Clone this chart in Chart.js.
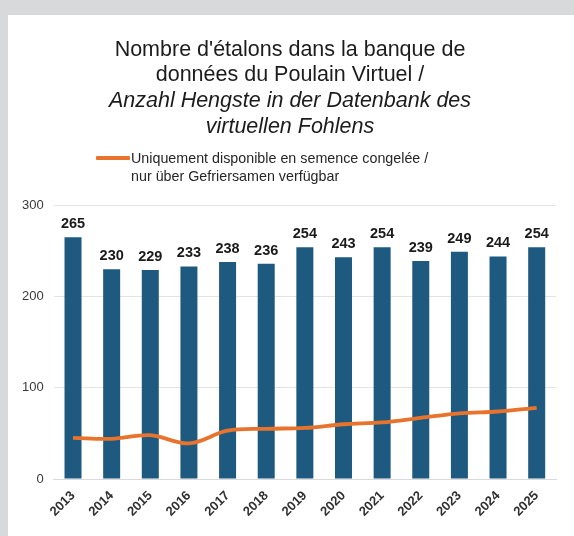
<!DOCTYPE html>
<html>
<head>
<meta charset="utf-8">
<script src="https://cdn.jsdelivr.net/npm/chart.js@4.4.1/dist/chart.umd.min.js"></script>
<style>
  html, body { margin: 0; padding: 0; }
  body { width: 574px; height: 536px; background: #d8d9db; position: relative; overflow: hidden;
         font-family: 'Liberation Sans', Arial, sans-serif; }
  #panel { position: absolute; left: 8px; top: 15px; right: 0; bottom: 0; background: #ffffff; }
  #wrap { position: absolute; left: 0; top: 0; width: 574px; height: 536px; }
  #legend { position: absolute; left: 96px; top: 149px; }
  .item { display: flex; align-items: flex-start; }
  .swatch { width: 34px; height: 4px; margin-top: 7px; margin-right: 1px; border-radius: 1px; }
  .ltext { font-size: 14.3px; line-height: 18px; color: #262626; }
</style>
</head>
<body>
<div id="panel"></div>
<div id="wrap"><canvas id="c" width="574" height="536"></canvas></div>
<div id="legend"></div>
<script>
// ---- data ----
const years = ['2013','2014','2015','2016','2017','2018','2019','2020','2021','2022','2023','2024','2025'];
const totalStallions = [265, 230, 229, 233, 238, 236, 254, 243, 254, 239, 249, 244, 254];
const frozenOnly = [45, 44, 48, 39, 53, 55, 56, 60, 62, 67, 72, 74, 78];
const yTickValues = [0, 100, 200, 300];
const titleLines = ["Nombre d'étalons dans la banque de", "données du Poulain Virtuel /"];
const subtitleLines = ["Anzahl Hengste in der Datenbank des", "virtuellen Fohlens"];
const frozenLabel = ["Uniquement disponible en semence congelée /", "nur über Gefriersamen verfügbar"];
const totalLabel = "Nombre d'étalons / Anzahl Hengste";

const FONT = "'Liberation Sans', Arial, Helvetica, sans-serif";
const BAR_COLOR = '#1e5a80';
const LINE_COLOR = '#e8732c';

Chart.defaults.font.family = FONT;

// value labels above bars (positions from the bar elements)
const barValueLabels = {
  id: 'barValueLabels',
  afterDatasetsDraw(chart) {
    const idx = chart.data.datasets.findIndex(d => d.type === 'bar');
    const meta = chart.getDatasetMeta(idx);
    const ctx = chart.ctx;
    ctx.save();
    ctx.font = 'bold 14.5px ' + FONT;
    ctx.fillStyle = '#1a1a1a';
    ctx.textAlign = 'center';
    ctx.textBaseline = 'alphabetic';
    meta.data.forEach((bar, i) => {
      ctx.fillText(String(chart.data.datasets[idx].data[i]), bar.x, bar.y - 9);
    });
    ctx.restore();
  }
};

// HTML legend built from the chart's line dataset
const htmlLegend = {
  id: 'htmlLegend',
  afterUpdate(chart) {
    const box = document.getElementById('legend');
    box.innerHTML = '';
    chart.data.datasets.forEach(ds => {
      if (ds.type !== 'line') return;
      const item = document.createElement('div');
      item.className = 'item';
      const sw = document.createElement('div');
      sw.className = 'swatch';
      sw.style.background = ds.borderColor;
      const tx = document.createElement('div');
      tx.className = 'ltext';
      const lines = Array.isArray(ds.label) ? ds.label : [ds.label];
      lines.forEach((l, i) => {
        if (i) tx.appendChild(document.createElement('br'));
        tx.appendChild(document.createTextNode(l));
      });
      item.appendChild(sw);
      item.appendChild(tx);
      box.appendChild(item);
    });
  }
};

new Chart(document.getElementById('c'), {
  data: {
    labels: years,
    datasets: [
      {
        type: 'line',
        label: frozenLabel,
        data: frozenOnly,
        borderColor: LINE_COLOR,
        backgroundColor: LINE_COLOR,
        borderWidth: 3.8,
        pointRadius: 0,
        tension: 0.35,
        yAxisID: 'y',
        order: 0
      },
      {
        type: 'bar',
        label: totalLabel,
        data: totalStallions,
        backgroundColor: BAR_COLOR,
        categoryPercentage: 1,
        barPercentage: 0.44,
        yAxisID: 'y',
        order: 1
      }
    ]
  },
  options: {
    responsive: false,
    devicePixelRatio: 1,
    animation: false,
    layout: { padding: { left: 14, right: 8, top: 0, bottom: 7 } },
    plugins: {
      legend: { display: false },
      tooltip: { enabled: false },
      title: {
        display: true,
        text: titleLines,
        color: '#1c1c1c',
        font: { size: 21.5, weight: 'normal', lineHeight: 1.19 },
        padding: { top: 37, bottom: 0 }
      },
      subtitle: {
        display: true,
        text: subtitleLines,
        color: '#1c1c1c',
        font: { size: 21.5, weight: 'normal', style: 'italic', lineHeight: 1.19 },
        padding: { top: 0, bottom: 66 }
      }
    },
    scales: {
      x: {
        grid: { display: false, drawTicks: false },
        border: { display: true, color: '#dadada' },
        ticks: {
          color: '#303030',
          font: { size: 13, weight: 'bold' },
          minRotation: 45,
          maxRotation: 45,
          padding: 9
        },
        afterFit(scale) { scale.height = 50; }
      },
      y: {
        position: 'left',
        min: 0,
        max: 300,
        afterBuildTicks(scale) { scale.ticks = yTickValues.map(v => ({ value: v })); },
        grid: { color: '#e3e3e3', drawTicks: false },
        border: { display: false },
        ticks: { color: '#3a3a3a', font: { size: 13 }, padding: 10 },
        afterFit(scale) { scale.width = 39.7; }
      },
      yRight: {
        position: 'right',
        min: 0,
        max: 300,
        grid: { display: false, drawTicks: false },
        border: { display: false },
        ticks: { display: false },
        afterFit(scale) { scale.width = 10; }
      }
    }
  },
  plugins: [barValueLabels, htmlLegend]
});
</script>
</body>
</html>
